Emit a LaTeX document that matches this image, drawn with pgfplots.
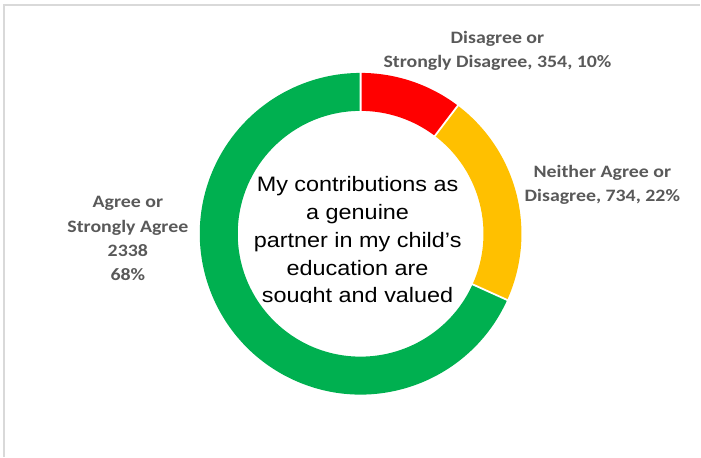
\documentclass[border=0pt]{standalone}
\usepackage{pgfplots}
\pgfplotsset{compat=1.18}
\usepackage{pgfplotstable}
\usepackage{fontspec}
\setmainfont{Carlito}
\newfontfamily\arialfont{Liberation Sans}

\definecolor{cRed}{HTML}{FF0000}
\definecolor{cGold}{HTML}{FFC000}
\definecolor{cGreen}{HTML}{00B050}
\definecolor{lbl}{HTML}{595959}
\definecolor{frameclr}{HTML}{D9D9D9}

% responses, clockwise from 12 o'clock
\pgfplotstableread{
label    value
Disagree 354
Neither  734
Agree    2338
}\donutdata
\pgfplotstablegetelem{0}{value}\of\donutdata \let\vA\pgfplotsretval
\pgfplotstablegetelem{1}{value}\of\donutdata \let\vB\pgfplotsretval
\pgfplotstablegetelem{2}{value}\of\donutdata \let\vC\pgfplotsretval
\pgfmathsetmacro\total{\vA+\vB+\vC}
\pgfmathsetmacro\aA{90-360*(\vA/\total)}
\pgfmathsetmacro\aB{\aA-360*(\vB/\total)}
\def\aC{-270}
\def\Ro{161bp}
\def\Ri{123bp}
\tikzset{lab/.style={align=center, inner sep=0, text=lbl, xscale=1.14, transform shape,
  font=\fontsize{17.5}{24.5}\selectfont\bfseries}}

\begin{document}
\begin{tikzpicture}
\path (0,0) rectangle (701bp,457bp);
\begin{axis}[
  x=1bp, y=1bp,
  xmin=0, xmax=701, ymin=0, ymax=457,
  scale only axis, hide axis, clip=false,
  anchor=origin, at={(0,0)}
]
% frame
\draw[frameclr, line width=1.5bp] (axis cs:4,0) -- (axis cs:4,452) -- (axis cs:701,452);

% ring
\fill[cRed, shift={(axis cs:361,223)}] (90:\Ro) arc[start angle=90, end angle=\aA, radius=\Ro]
  -- (\aA:\Ri) arc[start angle=\aA, end angle=90, radius=\Ri] -- cycle;
\fill[cGold, shift={(axis cs:361,223)}] (\aA:\Ro) arc[start angle=\aA, end angle=\aB, radius=\Ro]
  -- (\aB:\Ri) arc[start angle=\aB, end angle=\aA, radius=\Ri] -- cycle;
\fill[cGreen, shift={(axis cs:361,223)}] (\aB:\Ro) arc[start angle=\aB, end angle=\aC, radius=\Ro]
  -- (\aC:\Ri) arc[start angle=\aC, end angle=\aB, radius=\Ri] -- cycle;
\draw[white, line width=1.8bp, shift={(axis cs:361,223)}]
  (90:120bp) -- (90:164bp) (\aA:120bp) -- (\aA:164bp) (\aB:120bp) -- (\aB:164bp);

% data labels
\node[lab, font=\fontsize{17.5}{24}\selectfont\bfseries]
  at (axis cs:498,406) {Disagree or\\Strongly Disagree, 354, 10\%};
\node[lab] at (axis cs:603,272) {Neither Agree or\\Disagree, 734, 22\%};
\node[lab] at (axis cs:128,218) {Agree or\\Strongly Agree\\2338\\68\%};

% centre text (cut off at the bottom, as in the source)
\begin{scope}
\clip (axis cs:220,154) rectangle (axis cs:500,320);
\node[align=center, inner sep=0, xscale=1.12, transform shape,
  font=\arialfont\fontsize{21}{28}\selectfont]
  at (axis cs:358,215) {My contributions as\\a genuine\\partner in my child’s\\education are\\sought and valued};
\end{scope}
\end{axis}
\end{tikzpicture}
\end{document}
